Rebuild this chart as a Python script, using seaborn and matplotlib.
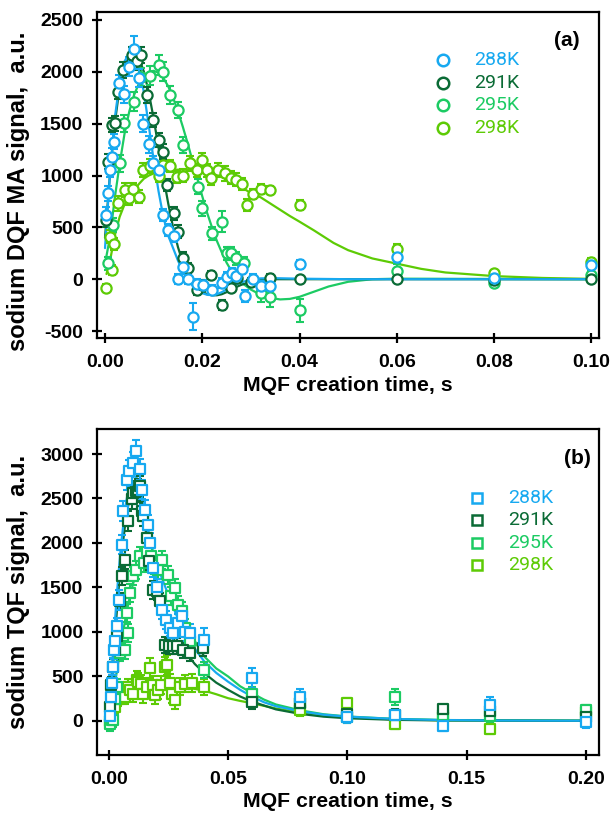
import numpy as np
import pandas as pd
import matplotlib
matplotlib.use("Agg")
import matplotlib.pyplot as plt
import seaborn as sns

# ---------------- data ----------------
temps = ["288K", "291K", "295K", "298K"]
colors = ["#17A9F0", "#0A6B35", "#1CCB63", "#5DCB05"]

# (a) sodium DQF MA signal
dqf_x_288 = [0.0003, 0.0007, 0.0010, 0.0014, 0.0019, 0.0029, 0.0040, 0.0050, 0.0060, 0.0069, 0.0079, 0.0090,
             0.0099, 0.0110, 0.0120, 0.0130, 0.0141, 0.0150, 0.0161, 0.0171, 0.0180, 0.0190, 0.0201, 0.0221,
             0.0240, 0.0250, 0.0261, 0.0270, 0.0281, 0.0288, 0.0305, 0.0320, 0.0340, 0.040, 0.060, 0.080, 0.100]
dqf_y_288 = [619, 828, 1053, 1181, 1326, 1889, 1783, 2050, 2220, 1940, 1500, 1301, 1120, 1050, 619, 474, 416, 0,
             115, 0, -362, -47, -56, -104, -37, 21, 60, 30, 98, -162, 2, -66, -66, 143, 217, 10, 137]
dqf_e_288 = [80, 70, 70, 80, 70, 80, 80, 90, 130, 90, 80, 80, 70, 70, 60, 60, 60, 50, 60, 50, 130, 50, 50, 50,
             50, 50, 50, 50, 50, 60, 50, 50, 50, 40, 50, 30, 40]

dqf_x_291 = [0.0003, 0.0007, 0.0014, 0.0021, 0.0026, 0.0038, 0.0056, 0.0066, 0.0075, 0.0086, 0.0099, 0.0110,
             0.0120, 0.0128, 0.0141, 0.0151, 0.0161, 0.0171, 0.0189, 0.0200, 0.0219, 0.0240, 0.0260, 0.0271,
             0.0300, 0.0340, 0.040, 0.060, 0.080, 0.100]
dqf_y_291 = [571, 1133, 1487, 1504, 1808, 2018, 2162, 2100, 2162, 1777, 1535, 1342, 1230, 908, 635, 458, 201,
             105, -104, -60, 40, -249, -80, 8, -30, 11, 0, 0, -10, 0]
dqf_e_291 = [70, 70, 70, 70, 70, 80, 80, 80, 80, 80, 70, 70, 70, 60, 60, 60, 60, 50, 50, 50, 40, 50, 40, 40,
             40, 40, 30, 30, 30, 30]

dqf_x_295 = [0.0007, 0.0017, 0.0031, 0.0040, 0.0060, 0.0075, 0.0093, 0.0110, 0.0120, 0.0134, 0.0151, 0.0160,
             0.0192, 0.0200, 0.0220, 0.0240, 0.0250, 0.0260, 0.0270, 0.0285, 0.0320, 0.0340, 0.040, 0.060,
             0.080, 0.100]
dqf_y_295 = [153, 523, 1118, 1504, 1712, 1950, 1963, 2066, 2002, 1777, 1632, 1294, 892, 684, 442, 555, 250,
             250, 200, 153, -136, -169, -300, 82, -34, 40]
dqf_e_295 = [60, 70, 80, 80, 90, 90, 90, 100, 90, 90, 80, 80, 70, 70, 60, 100, 60, 60, 60, 60, 80, 100, 110,
             60, 30, 40]

dqf_x_298 = [0.0003, 0.0010, 0.0014, 0.0019, 0.0027, 0.0041, 0.0050, 0.0058, 0.0069, 0.0079, 0.0093, 0.0110,
             0.0120, 0.0134, 0.0149, 0.0160, 0.0175, 0.0190, 0.0199, 0.0210, 0.0219, 0.0233, 0.0247, 0.0260,
             0.0270, 0.0281, 0.0292, 0.0305, 0.0320, 0.0340, 0.040, 0.060, 0.080, 0.100]
dqf_y_298 = [-88, 410, 88, 337, 732, 860, 780, 867, 796, 1053, 1092, 1000, 1100, 1092, 988, 1000, 1118, 1050,
             1150, 1050, 973, 1053, 1021, 980, 960, 918, 715, 820, 867, 860, 715, 288, 62, 169]
dqf_e_298 = [40, 60, 50, 60, 70, 70, 60, 60, 60, 70, 70, 60, 60, 60, 60, 60, 70, 60, 70, 60, 60, 70, 70, 60,
             60, 60, 60, 50, 50, 40, 50, 50, 30, 40]

# (a) fitted curves
dqf_fit_x_288 = [0.0, 0.001, 0.002, 0.003, 0.004, 0.005, 0.006, 0.007, 0.008, 0.009, 0.010, 0.011, 0.012, 0.013,
                 0.014, 0.015, 0.016, 0.017, 0.018, 0.019, 0.020, 0.021, 0.022, 0.023, 0.024, 0.025, 0.026,
                 0.027, 0.028, 0.030, 0.032, 0.035, 0.040, 0.050, 0.100]
dqf_fit_y_288 = [300, 1000, 1550, 1900, 2100, 2180, 2170, 2050, 1800, 1480, 1150, 850, 600, 420, 300, 180, 80, 0,
                 -60, -105, -135, -150, -153, -145, -125, -100, -75, -50, -30, -5, 8, 10, 5, 0, 0]

dqf_fit_x_291 = [0.0, 0.001, 0.002, 0.003, 0.004, 0.005, 0.006, 0.007, 0.008, 0.009, 0.010, 0.011, 0.012, 0.013,
                 0.014, 0.015, 0.016, 0.017, 0.018, 0.019, 0.020, 0.021, 0.022, 0.023, 0.024, 0.025, 0.026,
                 0.027, 0.028, 0.030, 0.032, 0.035, 0.100]
dqf_fit_y_291 = [400, 1000, 1500, 1850, 2050, 2150, 2170, 2130, 2000, 1800, 1550, 1270, 990, 730, 500, 310, 160,
                 50, -30, -85, -120, -145, -155, -155, -145, -125, -100, -75, -55, -25, -8, 0, 0]

dqf_fit_x_295 = [0.0, 0.001, 0.002, 0.003, 0.004, 0.005, 0.006, 0.007, 0.008, 0.009, 0.010, 0.011, 0.012, 0.013,
                 0.014, 0.015, 0.016, 0.017, 0.018, 0.019, 0.020, 0.021, 0.022, 0.023, 0.024, 0.025, 0.026,
                 0.027, 0.028, 0.030, 0.032, 0.034, 0.036, 0.038, 0.040, 0.043, 0.046, 0.050, 0.055, 0.060,
                 0.100]
dqf_fit_y_295 = [150, 400, 780, 1110, 1400, 1620, 1780, 1890, 1960, 2000, 2010, 1990, 1940, 1860, 1750, 1620,
                 1470, 1310, 1140, 970, 800, 640, 500, 370, 260, 160, 80, 20, -30, -100, -150, -180, -195, -190,
                 -170, -120, -70, -25, 0, 5, 0]

dqf_fit_x_298 = [0.0003, 0.001, 0.002, 0.003, 0.004, 0.005, 0.006, 0.007, 0.008, 0.009, 0.010, 0.012, 0.014,
                 0.016, 0.018, 0.020, 0.022, 0.024, 0.026, 0.028, 0.030, 0.032, 0.035, 0.038, 0.040, 0.043,
                 0.047, 0.050, 0.055, 0.060, 0.065, 0.070, 0.080, 0.090, 0.100]
dqf_fit_y_298 = [50, 170, 420, 600, 720, 800, 860, 920, 970, 1000, 1020, 1045, 1055, 1058, 1050, 1035, 1010, 985,
                 945, 890, 830, 790, 700, 610, 555, 470, 350, 280, 200, 150, 100, 65, 30, 12, 3]

# (b) sodium TQF signal
tqf_x_288 = [0.0005, 0.0008, 0.0011, 0.0015, 0.0020, 0.0025, 0.0032, 0.0043, 0.0053, 0.0060, 0.0074, 0.0085,
             0.0100, 0.0113, 0.0130, 0.0140, 0.0151, 0.0165, 0.0172, 0.0186, 0.0200, 0.0221, 0.0240, 0.0255,
             0.0270, 0.0290, 0.0305, 0.0320, 0.0340, 0.0400, 0.060, 0.080, 0.100, 0.120, 0.140, 0.160, 0.200]
tqf_y_288 = [50, 274, 424, 611, 799, 900, 1062, 1362, 1982, 2357, 2713, 2807, 2900, 3032, 2826, 2600, 2376, 2207,
             2001, 1720, 1500, 1250, 1137, 1050, 987, 1100, 1174, 1000, 987, 912, 481, 274, 42, 68, -56, 180, -15]
tqf_e_288 = [80, 90, 90, 100, 100, 100, 100, 110, 110, 110, 120, 120, 120, 120, 120, 110, 110, 110, 110, 100,
             100, 100, 100, 100, 100, 100, 100, 100, 100, 130, 110, 90, 60, 60, 60, 90, 60]

tqf_x_291 = [0.0003, 0.0010, 0.0018, 0.0025, 0.0032, 0.0046, 0.0053, 0.0067, 0.0081, 0.0095, 0.0102, 0.0113,
             0.0123, 0.0130, 0.0137, 0.0144, 0.0158, 0.0170, 0.0186, 0.0200, 0.0215, 0.0235, 0.0250, 0.0270,
             0.0285, 0.0310, 0.0340, 0.0396, 0.060, 0.080, 0.100, 0.120, 0.140, 0.160, 0.200]
tqf_y_291 = [161, 400, 611, 800, 949, 1343, 1625, 1813, 2244, 2489, 2564, 2582, 2600, 2638, 2357, 2300, 2057, 1800,
             1475, 1456, 1343, 856, 837, 837, 837, 799, 762, 818, 217, 200, 80, 70, 131, 112, 45]
tqf_e_291 = [80, 90, 90, 100, 100, 100, 100, 110, 110, 110, 120, 120, 120, 120, 110, 110, 110, 100, 100, 100,
             100, 90, 90, 90, 90, 90, 90, 90, 80, 70, 60, 60, 30, 60, 60]

tqf_x_295 = [0.0005, 0.0011, 0.0018, 0.0025, 0.0032, 0.0046, 0.0060, 0.0067, 0.0074, 0.0081, 0.0088, 0.0102,
             0.0113, 0.0130, 0.0145, 0.0160, 0.0175, 0.0190, 0.0205, 0.0221, 0.0249, 0.0262, 0.0277, 0.0290,
             0.0305, 0.0320, 0.0340, 0.0400, 0.060, 0.080, 0.100, 0.120, 0.140, 0.160, 0.200]
tqf_y_295 = [-30, 11, 11, 250, 386, 762, 949, 799, 1213, 987, 1438, 1625, 1700, 1850, 1780, 1900, 1850, 1750,
             1700, 1813, 1644, 1400, 1494, 1300, 1231, 1050, 900, 574, 300, 200, 40, 274, 70, 50, 124]
tqf_e_295 = [80, 80, 80, 90, 90, 90, 100, 100, 100, 100, 100, 100, 100, 110, 110, 110, 110, 100, 100, 100, 100,
             100, 100, 100, 100, 90, 90, 90, 80, 70, 60, 90, 60, 60, 60]

tqf_x_298 = [0.0005, 0.0011, 0.0025, 0.0040, 0.0060, 0.0067, 0.0080, 0.0088, 0.0100, 0.0116, 0.0123, 0.0135,
             0.0144, 0.0158, 0.0172, 0.0185, 0.0193, 0.0205, 0.0220, 0.0235, 0.0242, 0.0255, 0.0265, 0.0277,
             0.0298, 0.0320, 0.0347, 0.0400, 0.060, 0.080, 0.100, 0.120, 0.140, 0.160, 0.200]
tqf_y_298 = [0, 87, 161, 250, 274, 274, 380, 349, 300, 462, 443, 420, 300, 380, 593, 400, 293, 350, 400, 611,
             630, 430, 300, 236, 386, 420, 424, 386, 236, 124, 199, -34, 45, -90, 100]
tqf_e_298 = [70, 70, 80, 80, 80, 80, 90, 90, 90, 100, 100, 100, 100, 100, 110, 100, 100, 100, 100, 110, 110,
             100, 100, 100, 100, 100, 100, 90, 80, 70, 60, 60, 60, 60, 60]

# (b) fitted curves
tqf_fit_x_288 = [0.0, 0.001, 0.002, 0.003, 0.004, 0.005, 0.006, 0.007, 0.008, 0.009, 0.010, 0.011, 0.012, 0.013,
                 0.014, 0.015, 0.016, 0.018, 0.020, 0.022, 0.024, 0.026, 0.028, 0.030, 0.033, 0.036, 0.040,
                 0.045, 0.050, 0.055, 0.060, 0.065, 0.070, 0.080, 0.090, 0.100, 0.120, 0.140, 0.160, 0.200]
tqf_fit_y_288 = [0, 450, 900, 1300, 1650, 1950, 2200, 2420, 2580, 2690, 2740, 2750, 2720, 2640, 2520, 2370, 2210,
                 1950, 1780, 1620, 1480, 1340, 1210, 1100, 940, 810, 668, 540, 440, 350, 274, 210, 165, 110, 70,
                 48, 22, 10, 5, 2]

tqf_fit_x_291 = [0.0, 0.001, 0.002, 0.003, 0.004, 0.005, 0.006, 0.007, 0.008, 0.009, 0.010, 0.011, 0.012, 0.013,
                 0.014, 0.015, 0.016, 0.018, 0.020, 0.022, 0.024, 0.026, 0.028, 0.030, 0.033, 0.036, 0.040,
                 0.045, 0.050, 0.055, 0.060, 0.070, 0.080, 0.090, 0.100, 0.120, 0.140, 0.200]
tqf_fit_y_291 = [0, 350, 750, 1120, 1460, 1770, 2030, 2250, 2410, 2520, 2570, 2580, 2540, 2460, 2340, 2200, 2050,
                 1750, 1480, 1260, 1100, 970, 880, 820, 743, 640, 537, 430, 349, 275, 217, 130, 80, 48, 30, 12,
                 5, 1]

tqf_fit_x_295 = [0.0, 0.001, 0.002, 0.003, 0.004, 0.005, 0.006, 0.007, 0.008, 0.009, 0.010, 0.011, 0.012, 0.013,
                 0.014, 0.015, 0.016, 0.017, 0.018, 0.020, 0.022, 0.024, 0.026, 0.028, 0.030, 0.032, 0.034,
                 0.037, 0.040, 0.045, 0.050, 0.055, 0.060, 0.065, 0.070, 0.080, 0.090, 0.100, 0.120, 0.140,
                 0.200]
tqf_fit_y_295 = [0, 150, 320, 500, 680, 850, 1010, 1160, 1300, 1420, 1530, 1620, 1700, 1760, 1800, 1830, 1845,
                 1850, 1845, 1810, 1745, 1650, 1530, 1390, 1250, 1120, 1000, 850, 724, 590, 499, 390, 312, 240,
                 185, 120, 75, 50, 22, 10, 2]

tqf_fit_x_298 = [0.0, 0.002, 0.004, 0.006, 0.008, 0.010, 0.012, 0.014, 0.016, 0.018, 0.020, 0.022, 0.025, 0.028,
                 0.030, 0.033, 0.036, 0.040, 0.045, 0.050, 0.055, 0.060, 0.070, 0.080, 0.090, 0.100, 0.120,
                 0.140, 0.200]
tqf_fit_y_298 = [120, 170, 230, 280, 320, 350, 372, 388, 398, 403, 405, 403, 398, 390, 383, 370, 360, 340, 300,
                 255, 225, 199, 140, 95, 60, 40, 18, 8, 2]

dqf_points = {"288K": (dqf_x_288, dqf_y_288, dqf_e_288), "291K": (dqf_x_291, dqf_y_291, dqf_e_291),
              "295K": (dqf_x_295, dqf_y_295, dqf_e_295), "298K": (dqf_x_298, dqf_y_298, dqf_e_298)}
dqf_fits = {"288K": (dqf_fit_x_288, dqf_fit_y_288), "291K": (dqf_fit_x_291, dqf_fit_y_291),
            "295K": (dqf_fit_x_295, dqf_fit_y_295), "298K": (dqf_fit_x_298, dqf_fit_y_298)}
tqf_points = {"288K": (tqf_x_288, tqf_y_288, tqf_e_288), "291K": (tqf_x_291, tqf_y_291, tqf_e_291),
              "295K": (tqf_x_295, tqf_y_295, tqf_e_295), "298K": (tqf_x_298, tqf_y_298, tqf_e_298)}
tqf_fits = {"288K": (tqf_fit_x_288, tqf_fit_y_288), "291K": (tqf_fit_x_291, tqf_fit_y_291),
            "295K": (tqf_fit_x_295, tqf_fit_y_295), "298K": (tqf_fit_x_298, tqf_fit_y_298)}

dqf_yticks = [-500, 0, 500, 1000, 1500, 2000, 2500]
dqf_xticks = [0.00, 0.02, 0.04, 0.06, 0.08, 0.10]
tqf_yticks = [0, 500, 1000, 1500, 2000, 2500, 3000]
tqf_xticks = [0.00, 0.05, 0.10, 0.15, 0.20]

# ---------------- style ----------------
sns.set_theme(style="ticks")
plt.rcParams["font.family"] = ["Liberation Sans", "DejaVu Sans"]
plt.rcParams["axes.linewidth"] = 1.6
plt.rcParams["text.color"] = "black"
plt.rcParams["axes.labelcolor"] = "black"
plt.rcParams["xtick.color"] = "black"
plt.rcParams["ytick.color"] = "black"
plt.rcParams["xtick.labelcolor"] = "black"
plt.rcParams["ytick.labelcolor"] = "black"

W, H = 611, 814
fig = plt.figure(figsize=(W / 100, H / 100), dpi=100)
fig.patch.set_facecolor("white")


def axes_box(left, top, right, bottom):
    return [left / W, 1 - bottom / H, (right - left) / W, (bottom - top) / H]


ax_a = fig.add_axes(axes_box(97, 12, 599, 338))
ax_b = fig.add_axes(axes_box(97, 429, 599, 755))


def draw_panel(ax, points, fits, marker, msize):
    order = ["298K", "295K", "291K", "288K"]
    cmap = dict(zip(temps, colors))
    for t in order:
        fx, fy = fits[t]
        sns.lineplot(x=fx, y=fy, ax=ax, color=cmap[t], lw=1.6, sort=False, estimator=None, zorder=2)
    for t in order:
        px, py, pe = points[t]
        ax.errorbar(px, py, yerr=pe, fmt="none", ecolor=cmap[t], elinewidth=1.5,
                    capsize=3.2, capthick=1.5, zorder=3)
        sns.scatterplot(x=px, y=py, ax=ax, marker=marker, s=msize, facecolor="white",
                        edgecolor=cmap[t], linewidth=1.6, zorder=4)


draw_panel(ax_a, dqf_points, dqf_fits, "o", 54)
draw_panel(ax_b, tqf_points, tqf_fits, "s", 44)

tick_font = dict(fontsize=14, fontweight="bold", color="black")
xlabel_font = dict(fontsize=15.3, fontweight="bold", color="black")
ylabel_font = dict(fontsize=17, fontweight="bold", color="black")

for ax in (ax_a, ax_b):
    for s in ax.spines.values():
        s.set_visible(True)
        s.set_linewidth(1.6)
        s.set_color("black")
    ax.tick_params(axis="both", direction="inout", length=7.5, width=1.6, color="black",
                   labelcolor="black", top=False, right=False)
    ax.tick_params(axis="x", pad=8)
    ax.tick_params(axis="y", pad=6)
    ax.grid(False)

ax_a.set_xlim(-0.00165, 0.1016)
ax_a.set_ylim(-567, 2577)
ax_a.set_xticks(dqf_xticks)
ax_a.set_xticklabels([f"{v:.2f}" for v in dqf_xticks], **tick_font)
ax_a.set_yticks(dqf_yticks)
ax_a.set_yticklabels([str(v) for v in dqf_yticks], **tick_font)
ax_a.set_xlabel("MQF creation time, s", **xlabel_font)
ax_a.set_ylabel("sodium DQF MA signal,  a.u.", **ylabel_font)
ax_a.xaxis.set_label_coords(0.5, -0.118)
ax_a.yaxis.set_label_coords(-0.133, 0.45)

ax_b.set_xlim(-0.005, 0.2055)
ax_b.set_ylim(-383, 3281)
ax_b.set_xticks(tqf_xticks)
ax_b.set_xticklabels([f"{v:.2f}" for v in tqf_xticks], **tick_font)
ax_b.set_yticks(tqf_yticks)
ax_b.set_yticklabels([str(v) for v in tqf_yticks], **tick_font)
ax_b.set_xlabel("MQF creation time, s", **xlabel_font)
ax_b.set_ylabel("sodium TQF signal,  a.u.", **ylabel_font)
ax_b.xaxis.set_label_coords(0.5, -0.113)
ax_b.yaxis.set_label_coords(-0.133, 0.5)

# panel tags
fig.text(567 / W, 1 - 40 / H, "(a)", ha="center", va="center", fontsize=15, fontweight="bold")
fig.text(577 / W, 1 - 458 / H, "(b)", ha="center", va="center", fontsize=15, fontweight="bold")


# legends: coloured markers followed by coloured labels
def legend(marker_x, text_x, first_y, step, marker, msize):
    for i, (t, c) in enumerate(zip(temps, colors)):
        yy = 1 - (first_y + i * step) / H
        fig.lines.append(plt.Line2D([marker_x / W], [yy], transform=fig.transFigure, marker=marker,
                                    markersize=msize, markerfacecolor="white", markeredgecolor=c,
                                    markeredgewidth=1.8, linestyle="none"))
        fig.text(text_x / W, yy, t, color=c, fontsize=14, family=["Roboto", "DejaVu Sans"],
                 ha="left", va="center")


legend(443, 474, 60, 22.7, "o", 8.3)
legend(477, 508, 498, 22.4, "s", 7.8)

fig.savefig("out.png", dpi=100)
